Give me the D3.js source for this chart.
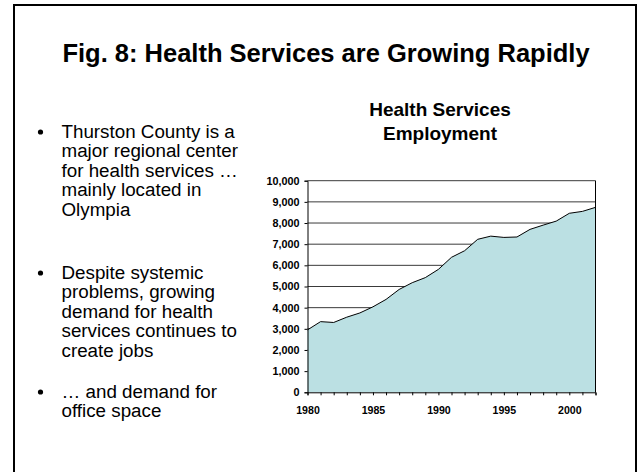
<!DOCTYPE html>
<html>
<head>
<meta charset="utf-8">
<script src="https://cdn.jsdelivr.net/npm/d3@7/dist/d3.min.js"></script>
<style>
  html, body { margin: 0; padding: 0; background: #fff; }
  svg { display: block; font-family: "Liberation Sans", Arial, sans-serif; }
</style>
</head>
<body>
<svg id="chart" width="638" height="472"></svg>
<script>
// Health services employment, Thurston County
const years = [1980, 1981, 1982, 1983, 1984, 1985, 1986, 1987, 1988, 1989, 1990, 1991,
               1992, 1993, 1994, 1995, 1996, 1997, 1998, 1999, 2000, 2001, 2002];
const employment = [2950, 3340, 3300, 3550, 3750, 4040, 4390, 4860, 5180, 5420, 5810, 6380,
                    6690, 7230, 7380, 7320, 7340, 7700, 7900, 8090, 8460, 8550, 8740];
const yTicks = [0, 1000, 2000, 3000, 4000, 5000, 6000, 7000, 8000, 9000, 10000];
const xTickLabels = [1980, 1985, 1990, 1995, 2000];

const pageTitle = "Fig. 8: Health Services are Growing Rapidly";
const chartTitle = ["Health Services", "Employment"];
const bullets = [
  ["Thurston County is a", "major regional center", "for health services \u2026", "mainly located in", "Olympia"],
  ["Despite systemic", "problems, growing", "demand for health", "services continues to", "create jobs"],
  ["\u2026 and demand for", "office space"]
];

const svg = d3.select("#chart");

// slide frame
svg.append("rect")
  .attr("x", 14).attr("y", 5).attr("width", 622).attr("height", 480)
  .attr("fill", "none").attr("stroke", "#000").attr("stroke-width", 2);

svg.append("text")
  .attr("x", 326).attr("y", 61.5)
  .attr("text-anchor", "middle")
  .attr("font-size", 25.5).attr("font-weight", "bold")
  .text(pageTitle);

// bullet list
const bulletStarts = [138, 279, 398];
const lineH = 19.4;
bullets.forEach((lines, i) => {
  const y0 = bulletStarts[i];
  svg.append("circle").attr("cx", 40.5).attr("cy", y0 - 6).attr("r", 2.6).attr("fill", "#000");
  lines.forEach((t, j) => {
    svg.append("text")
      .attr("x", 61.5).attr("y", y0 + j * lineH)
      .attr("font-size", 18.8)
      .text(t);
  });
});

// chart title
chartTitle.forEach((t, i) => {
  svg.append("text")
    .attr("x", 440).attr("y", 116 + i * 24)
    .attr("text-anchor", "middle")
    .attr("font-size", 19).attr("font-weight", "bold")
    .text(t);
});

const plot = { left: 307.5, right: 595.5, top: 180.7, bottom: 392.3 };

const x = d3.scaleLinear().domain([1980, 2002]).range([plot.left, plot.right]);
const y = d3.scaleLinear().domain([0, 10000]).range([plot.bottom, plot.top]);

const data = years.map((yr, i) => ({ yr, v: employment[i] }));

// gridlines
svg.append("g")
  .selectAll("line")
  .data(yTicks.filter(d => d > 0))
  .join("line")
  .attr("x1", plot.left).attr("x2", plot.right)
  .attr("y1", d => y(d)).attr("y2", d => y(d))
  .attr("stroke", "#3a3a3a").attr("stroke-width", 1);

// filled area
svg.append("path")
  .datum(data)
  .attr("d", d3.area().x(d => x(d.yr)).y0(y(0)).y1(d => y(d.v)))
  .attr("fill", "#bbe0e3");

svg.append("path")
  .datum(data)
  .attr("d", d3.line().x(d => x(d.yr)).y(d => y(d.v)))
  .attr("fill", "none").attr("stroke", "#000").attr("stroke-width", 1);

// right border of plot
svg.append("line")
  .attr("x1", plot.right).attr("x2", plot.right)
  .attr("y1", plot.top).attr("y2", plot.bottom)
  .attr("stroke", "#000").attr("stroke-width", 1);

// y axis
const yAxis = svg.append("g")
  .attr("transform", `translate(${plot.left},0)`)
  .call(d3.axisLeft(y).tickValues(yTicks).tickSize(3).tickPadding(5).tickFormat(d3.format(",")));
yAxis.selectAll("text").attr("font-size", 10.8).attr("font-weight", "bold")
  .attr("font-family", "Liberation Sans, Arial, sans-serif").attr("fill", "#000");
yAxis.select(".domain").attr("stroke", "#000");

// x axis
const xAxis = svg.append("g")
  .attr("transform", `translate(0,${plot.bottom})`)
  .call(d3.axisBottom(x).tickValues(years).tickSize(3).tickPadding(11)
    .tickFormat(d => xTickLabels.includes(d) ? String(d) : ""));
xAxis.selectAll("text").attr("font-size", 10.6).attr("font-weight", "bold")
  .attr("font-family", "Liberation Sans, Arial, sans-serif").attr("fill", "#000");
xAxis.select(".domain").attr("stroke", "#000");
</script>
</body>
</html>
